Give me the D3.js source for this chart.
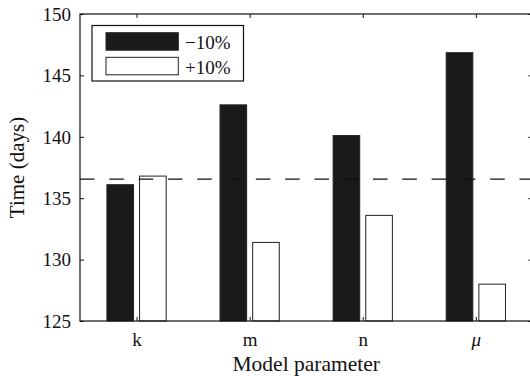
<!DOCTYPE html>
<html><head><meta charset="utf-8">
<script src="https://cdn.jsdelivr.net/npm/d3@7"></script></head>
<body style="margin:0">
<svg id="chart" width="530" height="376" style="display:block"></svg>
<script>
// ---- data ----
const categories = ["k", "m", "n", "μ"];
const seriesNames = ["−10%", "+10%"];
const minus10 = [136.1, 142.6, 140.1, 146.85];
const plus10 = [136.8, 131.4, 133.6, 128.0];
const baselineValue = 136.55;
const yTicks = [125, 130, 135, 140, 145, 150];
const xLabel = "Model parameter";
const yLabel = "Time (days)";

(function () {
const FONT = "'Times New Roman'";
const mLeft = 80, mRight = 532.4, mTop = 14, mBottom = 321;
const svg = d3.select("#chart");

const x0 = d3.scaleBand().domain(categories).range([mLeft, mRight]).padding(0);
const x1 = d3.scaleBand().domain(seriesNames)
  .range([x0.bandwidth() * 0.238, x0.bandwidth() * 0.762])
  .paddingInner(0.185).paddingOuter(0);
const y = d3.scaleLinear().domain([125, 150]).range([mBottom, mTop]);

const fills = {"−10%": "#1a1a1a", "+10%": "#ffffff"};
const valuesBySeries = {"−10%": minus10, "+10%": plus10};

const groups = svg.append("g").selectAll("g")
  .data(categories).join("g")
  .attr("transform", d => `translate(${x0(d)},0)`);

groups.selectAll("rect")
  .data((c, i) => seriesNames.map(s => ({s, v: valuesBySeries[s][i]})))
  .join("rect")
  .attr("x", d => x1(d.s))
  .attr("width", x1.bandwidth())
  .attr("y", d => y(d.v))
  .attr("height", d => y(125) - y(d.v))
  .attr("fill", d => fills[d.s])
  .attr("stroke", "#222")
  .attr("stroke-width", 1);

svg.append("line")
  .attr("x1", mLeft).attr("x2", mRight)
  .attr("y1", y(baselineValue)).attr("y2", y(baselineValue))
  .attr("stroke", "#111").attr("stroke-width", 1.1)
  .attr("stroke-dasharray", "14.6,14.7");

const tickLen = 4;
const leftAxis = svg.append("g").attr("transform", `translate(${mLeft},0)`)
  .call(d3.axisLeft(y).tickValues(yTicks).tickSizeInner(-tickLen).tickSizeOuter(0).tickPadding(9));
const rightAxis = svg.append("g").attr("transform", `translate(${mRight},0)`)
  .call(d3.axisRight(y).tickValues(yTicks).tickSizeInner(-tickLen).tickSizeOuter(0).tickFormat(""));
const xCenter = d => x0(d) + x0.bandwidth() / 2;
const xs = d3.scalePoint().domain(categories).range([xCenter(categories[0]), xCenter(categories[3])]);
const bottomAxis = svg.append("g").attr("transform", `translate(0,${mBottom})`)
  .call(d3.axisBottom(xs).tickSizeInner(-tickLen).tickSizeOuter(0).tickPadding(12));
const topAxis = svg.append("g").attr("transform", `translate(0,${mTop})`)
  .call(d3.axisTop(xs).tickSizeInner(-tickLen).tickSizeOuter(0).tickFormat(""));

[leftAxis, rightAxis, bottomAxis, topAxis].forEach(a => {
  a.select(".domain").remove();
  a.attr("font-family", null).attr("font-size", null);
  a.selectAll(".tick line").attr("stroke", "#111").attr("stroke-width", 1);
});
svg.append("rect")
  .attr("x", mLeft).attr("y", mTop)
  .attr("width", mRight - mLeft).attr("height", mBottom - mTop)
  .attr("fill", "none").attr("stroke", "#111").attr("stroke-width", 1.2);

leftAxis.selectAll(".tick text")
  .style("font-family", FONT).attr("font-size", 19)
  .attr("fill", "#111").attr("dy", "0.33em");
bottomAxis.selectAll(".tick text")
  .style("font-family", FONT).attr("font-size", 19)
  .attr("fill", "#111")
  .attr("font-style", d => d === "μ" ? "italic" : "normal");

svg.append("text")
  .attr("x", (mLeft + mRight) / 2).attr("y", 371)
  .attr("text-anchor", "middle")
  .style("font-family", FONT).attr("font-size", 21.5).attr("fill", "#111")
  .text(xLabel);
svg.append("text")
  .attr("transform", `translate(24,${(mTop + mBottom) / 2}) rotate(-90)`)
  .attr("text-anchor", "middle")
  .style("font-family", FONT).attr("font-size", 21).attr("fill", "#111")
  .text(yLabel);

const lg = svg.append("g");
lg.append("rect")
  .attr("x", 92).attr("y", 25.5).attr("width", 151.5).attr("height", 55.5)
  .attr("fill", "#fff").attr("stroke", "#111").attr("stroke-width", 1.2);
seriesNames.forEach((s, i) => {
  const yy = 32.7 + i * 24.6;
  lg.append("rect")
    .attr("x", 106).attr("y", yy).attr("width", 72.3).attr("height", 17.5)
    .attr("fill", fills[s]).attr("stroke", "#222").attr("stroke-width", 1);
  lg.append("text")
    .attr("x", 185).attr("y", yy + 16.5)
    .style("font-family", FONT).attr("font-size", 19).attr("fill", "#111")
    .text(s);
});
})();
</script>
</body>
</html>
